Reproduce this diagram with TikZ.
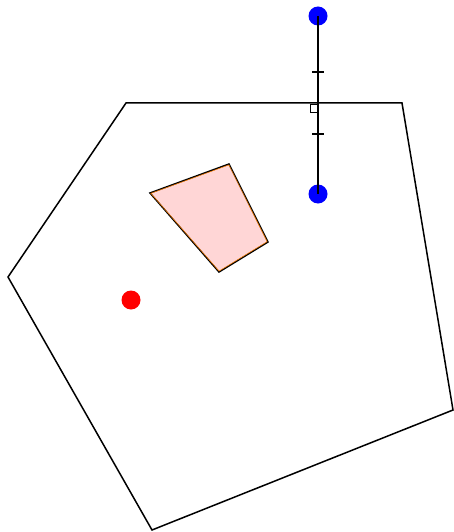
\documentclass[tikz,border=0pt]{standalone}
\usepackage{tikz}
\usetikzlibrary{calc}

\begin{document}
\begin{tikzpicture}[
        x=1pt,
        y=-1pt,
        edge/.style={line width=1.5pt,line join=miter},
        dot/.style={circle,inner sep=0pt,minimum size=19pt},
        tick mark/.style={line width=1.1pt}
    ]
        \useasboundingbox (0,0) rectangle (453,532);

        % The pentagon.
        \coordinate (a) at (126,103);
        \coordinate (b) at (402,103);
        \coordinate (c) at (453,410);
        \coordinate (d) at (152,530);
        \coordinate (e) at (8,277);
        \draw[edge] (a) -- (b) -- (c) -- (d) -- (e) -- cycle;

        % The shaded quadrilateral inside.
        \coordinate (qa) at (150,193);
        \coordinate (qb) at (229,164);
        \coordinate (qc) at (268,242);
        \coordinate (qd) at (219,272);
        \draw[edge,fill=red!16,draw=black] (qa) -- (qb) -- (qc) -- (qd) -- cycle;
        \draw[line width=0.5pt,orange]
            ($(qa)!0.9pt!(qc)$) -- ($(qb)!0.9pt!(qd)$) -- ($(qc)!0.9pt!(qa)$)
            -- ($(qd)!0.9pt!(qb)$) -- cycle;

        % The segment between the blue points, with its midpoint marks.
        \node[dot,fill=blue] (top) at (318,16) {};
        \node[dot,fill=blue] (bot) at (318,194) {};
        \draw[edge] (top.center) -- (bot.center);
        \coordinate (mid) at (318,105);
        \draw[line width=0.9pt] ($(mid)+(0,-1)$) -- ++(-8,0) -- ++(0,8) -- ++(8,0);
        \draw[tick mark] (312,72) -- (324,72);
        \draw[tick mark] (312,134) -- (324,134);

        % The red point.
        \node[dot,fill=red] (p) at (131,300) {};
    \end{tikzpicture}
\end{document}
